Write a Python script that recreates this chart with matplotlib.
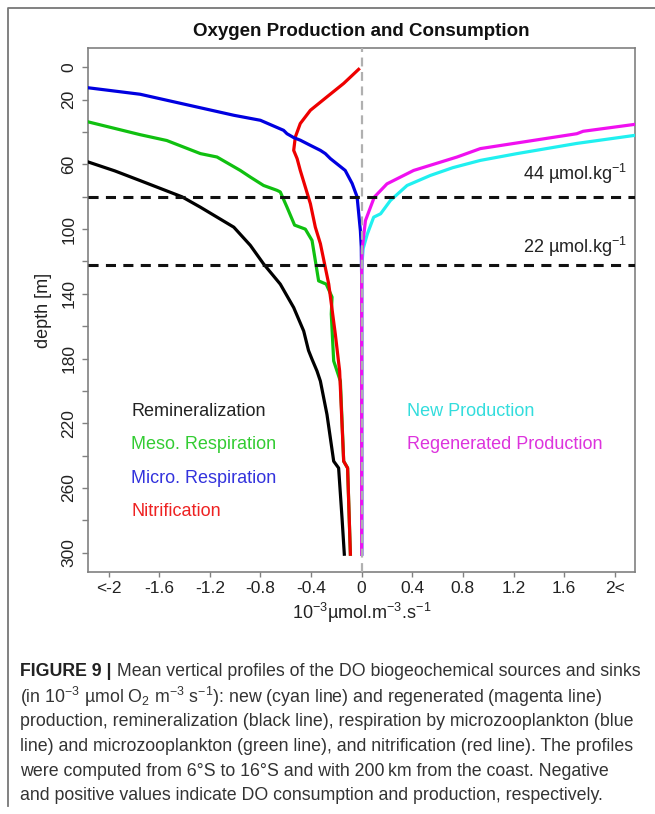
import numpy as np
import matplotlib
matplotlib.use('Agg')
import matplotlib.pyplot as plt
from matplotlib import rcParams, font_manager
from matplotlib.lines import Line2D

# Profiles: (depth [m], rate [1e-3 umol m-3 s-1])
remin_depth = [52, 58.5, 64, 70, 80, 86.4, 98.8, 110, 121.5, 134, 148.5, 163, 175, 180.5, 187.7, 194, 214.6, 243.5, 247.7, 278.7, 301]
remin_val = [-2.40, -2.16, -1.95, -1.75, -1.42, -1.275, -1.01, -0.88, -0.775, -0.643, -0.537, -0.458, -0.42, -0.392, -0.353, -0.326, -0.274, -0.221, -0.182, -0.155, -0.137]

meso_depth = [30, 33.7, 41.6, 45.2, 53.3, 55.4, 63.7, 67.8, 73, 76, 77, 86.4, 97.5, 100, 107, 132, 134, 142, 152.5, 181.5, 194, 243.5, 247.7, 301]
meso_val = [-2.35, -2.16, -1.75, -1.54, -1.274, -1.143, -0.959, -0.88, -0.775, -0.669, -0.643, -0.59, -0.53, -0.445, -0.392, -0.34, -0.28, -0.234, -0.24, -0.221, -0.168, -0.142, -0.111, -0.089]

micro_depth = [10, 12.6, 16.6, 20.3, 29.6, 32.7, 38.9, 41, 43.4, 45, 48.2, 51.3, 53.3, 56.4, 63.7, 71.8, 80, 101, 111, 130, 301]
micro_val = [-2.40, -2.16, -1.75, -1.54, -1.01, -0.80, -0.617, -0.59, -0.537, -0.485, -0.405, -0.326, -0.287, -0.247, -0.13, -0.075, -0.036, -0.01, -0.003, 0.0, 0.0]

nitri_depth = [1.2, 9.9, 18.2, 26.5, 34.7, 43, 51.3, 56.4, 63.7, 84.3, 98.8, 109, 134, 165, 187.7, 243.5, 247.7, 301]
nitri_val = [-0.024, -0.142, -0.274, -0.405, -0.485, -0.524, -0.537, -0.51, -0.485, -0.405, -0.366, -0.326, -0.26, -0.208, -0.174, -0.142, -0.111, -0.089]

newp_depth = [38, 42, 47, 53.3, 57.5, 62, 66.8, 73, 82.3, 90.5, 92.6, 103, 112, 120, 130, 301]
newp_val = [2.40, 2.16, 1.70, 1.228, 0.938, 0.72, 0.543, 0.359, 0.227, 0.15, 0.095, 0.045, 0.012, 0.004, 0.0, 0.0]

regp_depth = [33, 35.2, 39.5, 41, 50.2, 55.4, 63.7, 72, 80.2, 94.7, 113, 130, 301]
regp_val = [2.40, 2.16, 1.75, 1.70, 0.938, 0.754, 0.411, 0.20, 0.10, 0.03, 0.003, 0.0, 0.0]

o2_depths = [80, 122]
o2_labels = [r'44 µmol.kg$^{-1}$', r'22 µmol.kg$^{-1}$']
o2_label_depths = [65.7, 111.3]

xtick_vals = [-2, -1.6, -1.2, -0.8, -0.4, 0, 0.4, 0.8, 1.2, 1.6, 2]
xtick_labels = ['<-2', '-1.6', '-1.2', '-0.8', '-0.4', '0', '0.4', '0.8', '1.2', '1.6', '2<']
ytick_vals = list(range(0, 301, 20))
ytick_labels = ['0', '20', '', '60', '', '100', '', '140', '', '180', '', '220', '', '260', '', '300']

caption = [
    "(in 10$^{-3}$ µmol O$_2$ m$^{-3}$ s$^{-1}$): new (cyan line) and regenerated (magenta line)",
    "production, remineralization (black line), respiration by microzooplankton (blue",
    "line) and microzooplankton (green line), and nitrification (red line). The profiles",
    "were computed from 6°S to 16°S and with 200\u2009km from the coast. Negative",
    "and positive values indicate DO consumption and production, respectively.",
]

rcParams['font.family'] = ['Liberation Sans', 'DejaVu Sans']
rcParams['mathtext.fontset'] = 'custom'
rcParams['mathtext.rm'] = 'Liberation Sans'
rcParams['mathtext.it'] = 'Liberation Sans:italic'
rcParams['mathtext.bf'] = 'Liberation Sans:bold'

names = {f.name for f in font_manager.fontManager.ttflist}
cap_font = 'Liberation Sans Narrow' if 'Liberation Sans Narrow' in names else 'Liberation Sans'

W, H = 655, 814
fig = plt.figure(figsize=(W / 100, H / 100), dpi=100)

def fx(x):
    return x / W

def fy(y):
    return 1 - y / H

ax = fig.add_axes([fx(88.3), fy(572), (635 - 88.3) / W, (572 - 48) / H])

lw = 2.3
ax.plot(remin_val, remin_depth, color='black', lw=lw, zorder=3)
ax.plot(meso_val, meso_depth, color='#10c010', lw=lw, zorder=3)
ax.plot(nitri_val, nitri_depth, color='#ee0000', lw=lw, zorder=3)
ax.plot(micro_val, micro_depth, color='#0000e0', lw=lw, zorder=3)
ax.plot(newp_val, newp_depth, color='#20f0f0', lw=lw, zorder=3)
ax.plot(regp_val, regp_depth, color='#f010f0', lw=lw, zorder=3)

for d in o2_depths:
    ax.axhline(d, color='#111111', lw=2.2, dashes=(3.3, 2.4), zorder=4)
for lab, d in zip(o2_labels, o2_label_depths):
    ax.text(2.10, d, lab, ha='right', va='center', fontsize=13, color='#222222')
ax.axvline(0, color='#b0b0b0', lw=1.6, dashes=(4, 2.5), zorder=5)

ax.text(-1.82, 212.5, 'Remineralization', color='#222222', fontsize=13, va='center')
ax.text(-1.82, 233.2, 'Meso. Respiration', color='#33cc33', fontsize=13, va='center')
ax.text(-1.82, 253.9, 'Micro. Respiration', color='#3333dd', fontsize=13, va='center')
ax.text(-1.82, 274.5, 'Nitrification', color='#ee2222', fontsize=13, va='center')
ax.text(0.355, 212.5, 'New Production', color='#33dddd', fontsize=13, va='center')
ax.text(0.355, 233.2, 'Regenerated Production', color='#dd33dd', fontsize=13, va='center')

ax.set_xlim(-2.16, 2.16)
ax.set_ylim(312, -12)
ax.set_xticks(xtick_vals)
ax.set_xticklabels(xtick_labels)
ax.set_yticks(ytick_vals)
ax.set_yticklabels(ytick_labels)
ax.tick_params(axis='x', direction='out', length=3.5, width=1, color='#808080',
               labelsize=12.5, pad=3, labelcolor='#222222')
ax.tick_params(axis='y', direction='out', length=4, width=1, color='#808080',
               labelsize=12.5, pad=4.5, labelcolor='#222222')
plt.setp(ax.get_yticklabels(), rotation=90, va='center')
for s in ax.spines.values():
    s.set_color('#808080')
    s.set_linewidth(1.2)

fig.text(fx(361.5), fy(32), 'Oxygen Production and Consumption', ha='center', va='center',
         fontsize=13.5, fontweight='bold', color='#111111')
fig.text(fx(43), fy(310), 'depth [m]', rotation=90, ha='center', va='center', fontsize=13, color='#222222')
fig.text(fx(361.7), fy(613), r'10$^{-3}$µmol.m$^{-3}$.s$^{-1}$', ha='center', va='center',
         fontsize=13, color='#222222')

# outer frame
fig.add_artist(Line2D([fx(8), fx(8), fx(660)], [fy(806), fy(8), fy(8)], color='#777777', lw=1.3))

# caption, size fitted to the width of the first line
fig.canvas.draw()
r = fig.canvas.get_renderer()
size = 12.0
cap_x0, cap_w, cap_y0, cap_dy = 20, 623, 672, 24.8
t1 = fig.text(fx(cap_x0), fy(cap_y0), 'FIGURE 9 |', fontsize=size, fontweight='bold',
              family=cap_font, va='center', color='#222222')
t2 = fig.text(0, fy(cap_y0), ' Mean vertical profiles of the DO biogeochemical sources and sinks',
              fontsize=size, family=cap_font, va='center', color='#333333')
w_tot = t1.get_window_extent(r).width + t2.get_window_extent(r).width
size = size * cap_w / w_tot
t1.set_fontsize(size)
t2.set_fontsize(size)
w1 = t1.get_window_extent(r).width
t2.set_x(fx(cap_x0 + w1))
for i, line in enumerate(caption):
    fig.text(fx(cap_x0), fy(cap_y0 + cap_dy * (i + 1)), line, fontsize=size, family=cap_font,
             va='center', color='#333333')

fig.savefig('out.png', dpi=100)
